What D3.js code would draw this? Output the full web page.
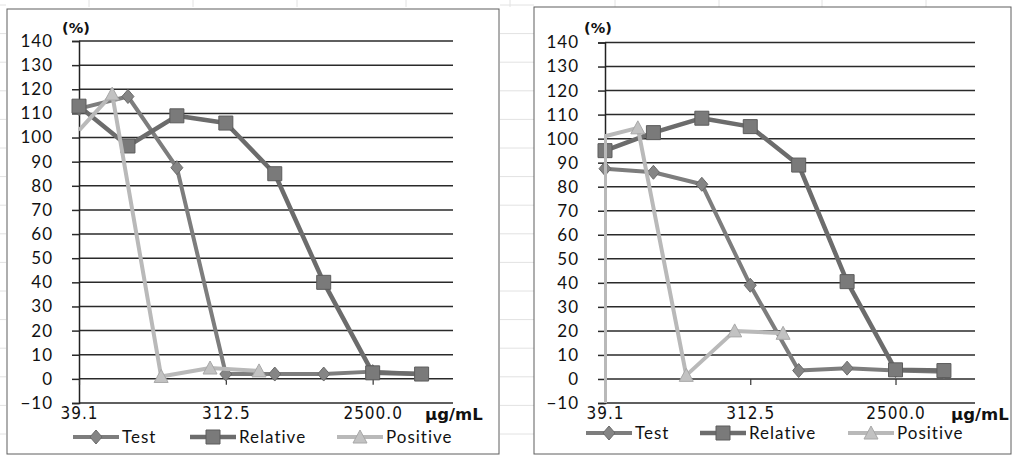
<!DOCTYPE html>
<html>
<head>
<meta charset="utf-8">
<script src="https://cdn.jsdelivr.net/npm/d3@7/dist/d3.min.js"></script>
<style>
  html, body { margin: 0; padding: 0; background: #fff; }
  svg { display: block; }
</style>
</head>
<body>
<svg id="chart" width="1012" height="455"></svg>
<script>
// Concentrations (µg/mL) of the two-fold dilution series
const concentrations = [39.0625, 78.125, 156.25, 312.5, 625, 1250, 2500, 5000];
const xTickValues = [39.0625, 312.5, 2500];
const xTickLabels = ["39.1", "312.5", "2500.0"];
const yTicks = [-10, 0, 10, 20, 30, 40, 50, 60, 70, 80, 90, 100, 110, 120, 130, 140];
const seriesNames = ["Test", "Relative", "Positive"];
const unitLabel = "µg/mL";
const percentLabel = "(%)";

// Left panel (% of control)
const leftTest = [112, 117, 87.5, 2, 2, 2, 3, 2];
const leftRelative = [113, 96.5, 109, 106, 85, 40, 2.5, 2];
const leftPositiveConc = [31.25, 62.5, 125, 250, 500];
const leftPositive = [103, 118, 1, 4.5, 3.3];

// Right panel (% of control)
const rightTest = [87.5, 86, 81, 39, 3.5, 4.5, 3.5, 3];
const rightRelative = [95, 102.5, 108.5, 105, 89, 40.5, 3.8, 3.5];
const rightPositiveConc = [15.625, 31.25, 62.5, 125, 250, 500];
const rightPositive = [-12, 101, 104.5, 1.5, 20, 19];

const svg = d3.select("#chart");
svg.append("rect").attr("width", 1012).attr("height", 455).attr("fill", "#fff");

// faint worksheet cell borders behind the charts
const sheet = svg.append("g").attr("stroke", "#e2e2e2").attr("stroke-width", 1);
[89, 193, 297, 406, 510, 615, 719, 822, 926].forEach(x => {
  sheet.append("line").attr("x1", x).attr("x2", x).attr("y1", 0).attr("y2", 7);
});
d3.range(5, 455, 28.6).forEach(y => {
  sheet.append("line").attr("x1", 500).attr("x2", 534).attr("y1", y).attr("y2", y);
  sheet.append("line").attr("x1", 0).attr("x2", 6).attr("y1", y).attr("y2", y);
});

const styles = {
  Test:     { line: "#7d7d7d", fill: "#858585", stroke: "#6a6a6a", width: 4 },
  Relative: { line: "#6c6c6c", fill: "#7a7a7a", stroke: "#5c5c5c", width: 4.5 },
  Positive: { line: "#b9b9b9", fill: "#c2c2c2", stroke: "#a8a8a8", width: 4 }
};

function markerPath(name) {
  if (name === "Test") return "M0,-7L6,0L0,7L-6,0Z";
  if (name === "Relative") return "M-7,-7H7V7H-7Z";
  return "M0,-7L7,6H-7Z";
}

function drawPanel(cfg) {
  const g = svg.append("g");
  // chart frame
  g.append("rect")
    .attr("x", cfg.box[0]).attr("y", cfg.box[1])
    .attr("width", cfg.box[2] - cfg.box[0]).attr("height", cfg.box[3] - cfg.box[1])
    .attr("fill", "#fff").attr("stroke", "#5e5e5e").attr("stroke-width", 1);

  const x = d3.scaleLog().base(2)
    .domain([39.0625, 7800])
    .range([cfg.left, cfg.right])
    .clamp(true);
  const y = d3.scaleLinear().domain([-10, 140]).range([cfg.bottom, cfg.top]).clamp(true);

  // horizontal gridlines
  g.append("g").selectAll("line").data(yTicks).join("line")
    .attr("x1", cfg.left).attr("x2", cfg.right)
    .attr("y1", d => y(d)).attr("y2", d => y(d))
    .attr("stroke", "#2a2a2a").attr("stroke-width", 1.5);

  // value axis
  const yAxis = g.append("g")
    .attr("transform", `translate(${cfg.left},0)`)
    .call(d3.axisLeft(y).tickValues(yTicks).tickSize(7).tickPadding(19));
  yAxis.select(".domain").attr("stroke", "#222").attr("stroke-width", 1.5);
  yAxis.selectAll(".tick line").attr("stroke", "#2a2a2a").attr("stroke-width", 1.5);
  yAxis.selectAll(".tick text")
    .attr("fill", "#111")
    .style("font-family", "Lato, 'Open Sans', sans-serif")
    .style("font-size", "17px")
    .style("letter-spacing", "1px");

  // concentration axis crossing at 0
  const xAxis = g.append("g")
    .attr("transform", `translate(0,${y(0)})`)
    .call(d3.axisBottom(x).tickValues(xTickValues)
      .tickFormat((d, i) => xTickLabels[i]).tickSize(6).tickPadding(22));
  xAxis.select(".domain").remove();
  xAxis.selectAll(".tick line").attr("stroke", "#333").attr("stroke-width", 1.2);
  xAxis.selectAll(".tick text")
    .attr("fill", "#111")
    .style("font-family", "'Liberation Sans Narrow', 'DejaVu Sans Condensed', sans-serif")
    .style("font-size", "17px")
    .style("letter-spacing", "1px");

  // axis captions
  g.append("text")
    .attr("x", cfg.pctX).attr("y", 33)
    .style("font-family", "'DejaVu Sans', sans-serif")
    .style("font-size", "14.5px").style("font-weight", "bold")
    .attr("fill", "#111")
    .text(percentLabel);
  g.append("text")
    .attr("x", cfg.unitX).attr("y", y(0) + 41)
    .style("font-family", "'DejaVu Sans', sans-serif")
    .style("font-size", "16.5px").style("font-weight", "bold")
    .attr("fill", "#111")
    .text(unitLabel);

  // data series
  const clipId = "clip" + cfg.id;
  g.append("clipPath").attr("id", clipId).append("rect")
    .attr("x", cfg.left - 1).attr("y", cfg.top - 8)
    .attr("width", cfg.right - cfg.left + 1).attr("height", cfg.bottom - cfg.top + 8);

  const line = d3.line()
    .x(d => x(d.c)).y(d => y(d.v))
    .curve(d3.curveLinear);

  cfg.series.forEach(s => {
    const st = styles[s.name];
    const pts = s.conc.map((c, i) => ({ c, v: s.values[i] }));
    const sg = g.append("g");
    sg.append("path")
      .attr("d", line(pts))
      .attr("clip-path", `url(#${clipId})`)
      .attr("fill", "none").attr("stroke", st.line)
      .attr("stroke-width", st.width).attr("stroke-linejoin", "round");
    sg.selectAll("path.m").data(pts.filter(p => p.c >= 39 && p.v >= -10)).join("path")
      .attr("class", "m")
      .attr("d", markerPath(s.name))
      .attr("transform", p => `translate(${x(p.c)},${y(p.v)})`)
      .attr("fill", st.fill).attr("stroke", st.stroke).attr("stroke-width", 1);
  });

  // legend
  const lg = g.append("g");
  cfg.legend.forEach((lx, i) => {
    const name = seriesNames[i];
    const st = styles[name];
    lg.append("line")
      .attr("x1", lx).attr("x2", lx + 46)
      .attr("y1", cfg.legendY).attr("y2", cfg.legendY)
      .attr("stroke", st.line).attr("stroke-width", st.width);
    lg.append("path")
      .attr("d", markerPath(name))
      .attr("transform", `translate(${lx + 23},${cfg.legendY})`)
      .attr("fill", st.fill).attr("stroke", st.stroke).attr("stroke-width", 1);
    lg.append("text")
      .attr("x", lx + 49).attr("y", cfg.legendY + 6)
      .style("font-family", "Lato, 'Open Sans', sans-serif")
      .style("font-size", "17px")
      .style("letter-spacing", "1px")
      .attr("fill", "#111")
      .text(name);
  });
}

drawPanel({
  id: "L",
  box: [7, 9, 499, 454],
  left: 79, right: 453, top: 41, bottom: 403,
  pctX: 62, unitX: 425,
  legendY: 437, legend: [73, 190, 337],
  series: [
    { name: "Test", conc: concentrations, values: leftTest },
    { name: "Relative", conc: concentrations, values: leftRelative },
    { name: "Positive", conc: leftPositiveConc, values: leftPositive }
  ]
});

drawPanel({
  id: "R",
  box: [534, 7, 1011, 454],
  left: 605, right: 975, top: 42.5, bottom: 403,
  pctX: 584, unitX: 951,
  legendY: 433, legend: [586, 700, 848],
  series: [
    { name: "Test", conc: concentrations, values: rightTest },
    { name: "Relative", conc: concentrations, values: rightRelative },
    { name: "Positive", conc: rightPositiveConc, values: rightPositive }
  ]
});
</script>
</body>
</html>
